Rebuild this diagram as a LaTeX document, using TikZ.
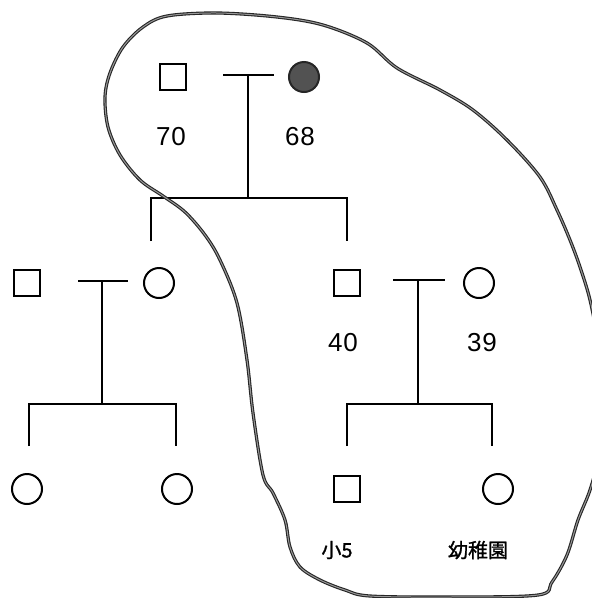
\documentclass[tikz,border=0pt]{standalone}
\usepackage{fontspec}
\setmainfont{Liberation Sans}
\newfontfamily\numfont[LetterSpace=4]{Liberation Sans}
\newfontfamily\jp[FakeBold=1.2]{Noto Sans CJK JP}
\begin{document}
\begin{tikzpicture}[x=1pt,y=-1pt,
  line width=2pt,
  male/.style={draw, line width=1.8pt, minimum size=26pt, inner sep=0pt},
  female/.style={draw, circle, line width=2pt, minimum size=30pt, inner sep=0pt},
  patient/.style={female, fill=black!68, draw=black!85},
  age/.style={font=\numfont\fontsize{26}{26}\selectfont, inner sep=0pt},
  note/.style={font=\jp\fontsize{20}{20}\selectfont, inner sep=0pt},
  blob/.style={draw=black!85, double=black!40, double distance=1pt, line width=1.1pt}
]
\useasboundingbox (0,0) rectangle (592,598);
\fill[white] (0,0) rectangle (592,598);

% generation 1
\node[male] (gf) at (173,77) {};
\node[patient] (gm) at (304,77) {};
\node[age] (a70) at (171,137) {70};
\node[age] (a68) at (300,137) {68};
\coordinate (m1l) at (223,75);
\coordinate (m1r) at (274,75);
\coordinate (m1) at (248,75);
\coordinate (b1) at (248,198);
\coordinate (d1l) at (151,241);
\coordinate (d1r) at (347,241);
\draw (m1l) -- (m1r);
\draw (m1) -- (b1);
\draw (d1l) |- (b1) -| (d1r);

% generation 2 left
\node[male] (ls) at (27,283) {};
\node[female] (lw) at (159,283) {};
\coordinate (m2l) at (78,281);
\coordinate (m2r) at (128,281);
\coordinate (m2) at (102,281);
\coordinate (b2) at (102,404);
\coordinate (d2l) at (29,446);
\coordinate (d2r) at (176,446);
\draw (m2l) -- (m2r);
\draw (m2) -- (b2);
\draw (d2l) |- (b2) -| (d2r);

% generation 2 right
\node[male] (rs) at (347,283) {};
\node[female] (rw) at (479,283) {};
\node[age] (a40) at (343,343) {40};
\node[age] (a39) at (482,343) {39};
\coordinate (m3l) at (393,280);
\coordinate (m3r) at (445,280);
\coordinate (m3) at (418,280);
\coordinate (b3) at (418,404);
\coordinate (d3l) at (347,446);
\coordinate (d3r) at (492,446);
\draw (m3l) -- (m3r);
\draw (m3) -- (b3);
\draw (d3l) |- (b3) -| (d3r);

% generation 3
\node[female] (c1) at (27,489) {};
\node[female] (c2) at (177,489) {};
\node[male] (c3) at (347,489) {};
\node[female] (c4) at (498,489) {};
\node[note] (t1) at (337,550) {小5};
\node[note] (t2) at (478,550) {幼稚園};

% enclosing outline
\begin{scope}
\clip (0,0) rectangle (592,598);
\draw[blob] plot[smooth cycle, tension=0.55] coordinates {
 (143,27) (167,16) (217,13) (277,17) (323,25) (367,43) (397,68) (440,90)
 (473,110) (507,140) (540,177) (557,210) (570,240) (580,267) (590,300)
 (597,340) (600,400) (597,460) (590,490) (578,520) (567,555) (552,582)
 (538,595) (450,597) (370,596) (345,590) (320,580) (300,567) (290,547)
 (285,520) (273,493) (263,475) (253,413) (247,360) (237,303) (220,260)
 (205,235) (185,212) (163,196) (140,180) (120,155) (108,127) (105,97)
 (110,73) (123,47)};
\end{scope}
\end{tikzpicture}
\end{document}
